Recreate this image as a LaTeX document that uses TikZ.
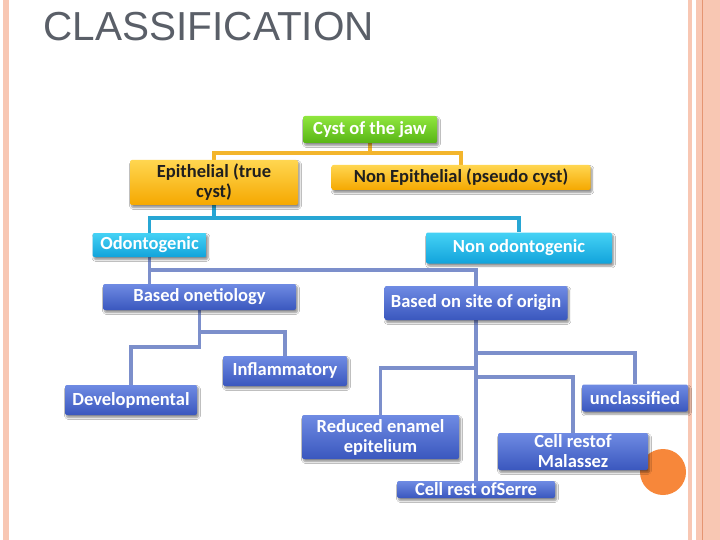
\documentclass[tikz,border=0pt]{standalone}
\usepackage{fontspec}
\setmainfont{Carlito}
\newfontfamily\titlefont{Liberation Sans}
\usetikzlibrary{shadows.blur}
\pgfdeclarelayer{lines}
\pgfsetlayers{lines,main}
\definecolor{pinkb}{HTML}{F8C7B3}
\definecolor{pinkd}{HTML}{E59572}
\definecolor{titlegray}{HTML}{5A5F68}
\definecolor{orline}{HTML}{F3B52C}
\definecolor{blline}{HTML}{27A6D4}
\definecolor{puline}{HTML}{7C8FCB}
\definecolor{gtop}{HTML}{8FE63E}
\definecolor{gbot}{HTML}{58B515}
\definecolor{ytop}{HTML}{FFD650}
\definecolor{ybot}{HTML}{F5A800}
\definecolor{btop}{HTML}{45D2F5}
\definecolor{bbot}{HTML}{12A3DB}
\definecolor{ptop}{HTML}{6F8BE3}
\definecolor{pbot}{HTML}{3A57BE}
\definecolor{dotor}{HTML}{F7873A}
\tikzset{
  box/.style={rounded corners=2pt, inner sep=0pt, align=center,
    font=\bfseries\fontsize{18.5}{20}\selectfont,
    blur shadow={shadow xshift=1.5pt, shadow yshift=-2.5pt, shadow blur steps=6, shadow opacity=45}},
  greenbox/.style={box, top color=gtop, bottom color=gbot, text=white},
  yellowbox/.style={box, top color=ytop, bottom color=ybot, text=black!88},
  bluebox/.style={box, top color=btop, bottom color=bbot, text=white},
  purplebox/.style={box, top color=ptop, bottom color=pbot, text=white},
  oline/.style={draw=orline, line width=3.7pt},
  bline/.style={draw=blline, line width=3.7pt},
  pline/.style={draw=puline, line width=3.7pt},
}
\begin{document}
\begin{tikzpicture}[x=1pt,y=-1pt]
\useasboundingbox (0,0) rectangle (720,540);
% nodes
\node[greenbox, minimum width=134pt, minimum height=27pt] (jaw) at (370,129.5) {Cyst of the jaw};
\node[yellowbox, minimum width=168pt, minimum height=45pt] (epi) at (214,182.5) {Epithelial (true\\cyst)};
\node[yellowbox, minimum width=259pt, minimum height=25pt] (nonepi) at (461,177.5) {Non Epithelial (pseudo cyst)};
\node[bluebox, minimum width=114pt, minimum height=24pt] (odo) at (149.5,245) {Odontogenic};
\node[bluebox, minimum width=186pt, minimum height=31pt] (nonodo) at (519,248) {Non odontogenic};
\node[purplebox, minimum width=193pt, minimum height=26pt] (etio) at (199.5,297) {Based onetiology};
\node[purplebox, minimum width=183pt, minimum height=34pt] (site) at (476,303) {Based on site of origin};
\node[purplebox, minimum width=124pt, minimum height=30pt] (infl) at (285,371) {Inflammatory};
\node[purplebox, minimum width=132pt, minimum height=30pt] (dev) at (131,400) {Developmental};
\node[purplebox, minimum width=106pt, minimum height=27pt] (uncl) at (635,398) {unclassified};
\node[purplebox, minimum width=157pt, minimum height=44pt] (red) at (380.5,437) {Reduced enamel\\epitelium};
\node[purplebox, minimum width=150pt, minimum height=37pt] (mal) at (573,451.5) {Cell restof\\Malassez};
\node[purplebox, minimum width=158pt, minimum height=17pt] (serre) at (476,489.5) {Cell rest ofSerre};
\begin{pgfonlayer}{lines}
\fill[white] (0,0) rectangle (720,540);
% borders
\fill[pinkb] (3,0) rectangle (9,540);
\fill[pinkb] (688,0) rectangle (691.5,540);
\fill[pinkb] (696,0) rectangle (720,540);
\fill[pinkd] (702,0) rectangle (703.3,540);
% title
\node[anchor=base west, inner sep=0pt, text=titlegray, font=\titlefont\fontsize{40.5}{44}\selectfont] (title) at (43.5,41) {CLASSIFICATION};
% orange dot
\fill[dotor] (663,472) circle (23);
% connectors
\path[oline] (jaw.south) -- (jaw.south |- 0,153) -| (epi.north);
\path[oline] (jaw.south |- 0,153) -| (nonepi.north);
\path[bline] (epi.south) -- (epi.south |- 0,218) -| (odo.north);
\path[bline] (epi.south |- 0,218) -| (nonodo.north);
\path[pline] (odo.south) -- (odo.south |- etio.north);
\path[pline] (odo.south |- 0,270) -| (site.north);
\path[pline] (etio.south) -- (etio.south |- 0,347) -| (dev.north);
\path[pline] (etio.south |- 0,332) -| (infl.north);
\path[pline] (site.south) -- (serre.north);
\path[pline] (site.south |- 0,353) -| (uncl.north);
\path[pline] (site.south |- 0,368) -| (red.north);
\path[pline] (site.south |- 0,377) -| (mal.north);
\end{pgfonlayer}
\end{tikzpicture}
\end{document}
